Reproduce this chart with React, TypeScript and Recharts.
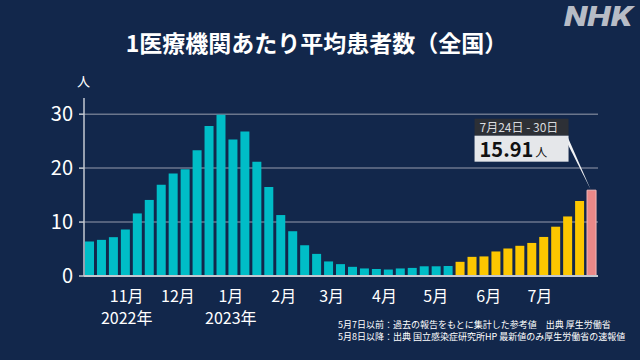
import { BarChart, Bar, XAxis, YAxis, CartesianGrid, Cell } from "recharts";

// weekly averages, 2022-10 .. 2023-05-07 (reference values)
const pastValues = [
  6.4, 6.7, 7.2, 8.6, 11.6, 14.1, 16.9, 19.0, 19.8, 23.3, 27.8, 29.9, 25.3,
  26.8, 21.2, 16.5, 11.3, 8.3, 5.7, 4.1, 2.7, 2.2, 1.7, 1.4, 1.3, 1.2, 1.4,
  1.5, 1.8, 1.8, 1.85,
];
// from 2023-05-08 (sentinel surveillance)
const newValues = [2.63, 3.55, 3.63, 4.55, 5.11, 5.6, 6.13, 7.24, 9.14, 11.04, 13.91];
const latestValue = 15.91;
const latestRange = "7月24日 - 30日";

const monthLabels = ["11月", "12月", "1月", "2月", "3月", "4月", "5月", "6月", "7月"];
const yearLabels = ["2022年", "", "2023年", "", "", "", "", "", ""];
const monthStarts = [
  "2022-11-01", "2022-12-01", "2023-01-01", "2023-02-01", "2023-03-01",
  "2023-04-01", "2023-05-01", "2023-06-01", "2023-07-01",
];
const firstBarDate = "2022-10-10T12:00:00Z";
const yTicks = [0, 10, 20, 30];
const gridValues = [10, 20, 30];

const WEEK = 7 * 864e5;
const monthTicks = monthStarts.map(
  (d) => (Date.parse(d + "T00:00:00Z") - Date.parse(firstBarDate)) / WEEK,
);

const colors: Record<string, string> = {
  past: "#00bdc7",
  new: "#fcc700",
  latest: "#ea8888",
};

const data = [
  ...pastValues.map((v) => ({ value: v, kind: "past" })),
  ...newValues.map((v) => ({ value: v, kind: "new" })),
  { value: latestValue, kind: "latest" },
].map((d, i) => ({ ...d, pos: i }));

const FONT = '"Noto Sans CJK JP", "Noto Sans", sans-serif';
const BG = "#12274b";

const MonthTick = (props: any) => {
  const { x, y, index } = props;
  return (
    <g>
      <text x={x} y={y + 26} textAnchor="middle" fill="#fff" fontSize={16} fontFamily={FONT}>
        {monthLabels[index]}
      </text>
      {yearLabels[index] && (
        <text x={x} y={y + 48} textAnchor="middle" fill="#fff" fontSize={16} fontFamily={FONT}>
          {yearLabels[index]}
        </text>
      )}
    </g>
  );
};

const renderCallout = (props: any) => {
  const vb = props.viewBox ?? props;
  if (props.index !== data.length - 1 && props.value !== latestValue) return null;
  const bx = vb.x + vb.width / 2;
  const by = vb.y;
  const left = bx - 117;
  const right = bx - 23;
  const top = by - 71.5;
  return (
    <g>
      <polygon
        points={`${right - 1},${top + 18} ${right - 1},${top + 25} ${bx - 1},${by - 1}`}
        fill="#f2f3f5"
      />
      <rect x={left} y={top} width={right - left} height={17} fill="#2d3036" />
      <rect x={left} y={top + 17} width={right - left} height={26} fill="#e5e7ea" />
      <text x={left + 5} y={top + 13} fill="#d9dbdf" fontSize={12} fontFamily={FONT}>
        {latestRange}
      </text>
      <text x={left + 5} y={top + 38.5} fill="#111" fontFamily={FONT}>
        <tspan fontSize={20} fontWeight="bold">{latestValue.toFixed(2)}</tspan>
        <tspan fontSize={12} dx={2}>人</tspan>
      </text>
    </g>
  );
};

export default function App() {
  return (
    <div
      style={{
        position: "absolute",
        left: 0,
        top: 0,
        width: 640,
        height: 360,
        background: BG,
        overflow: "hidden",
      }}
    >
      <BarChart
        width={640}
        height={360}
        data={data}
        margin={{ top: 98, right: 42, bottom: 0, left: 0 }}
      >
        <CartesianGrid
          vertical={false}
          horizontalValues={gridValues}
          stroke="#6b768c"
          strokeWidth={1.5}
        />
        <XAxis
          type="number"
          dataKey="pos"
          domain={[-0.5, 42.5]}
          ticks={monthTicks}
          interval={0}
          height={84}
          tickLine={false}
          tickSize={0}
          tickMargin={0}
          tick={<MonthTick />}
          axisLine={{ stroke: "#c3c8d0", strokeWidth: 2 }}
        />
        <YAxis
          width={84}
          domain={[0, 33]}
          ticks={yTicks}
          interval={0}
          tickSize={5}
          tickMargin={6}
          tickLine={{ stroke: "#c3c8d0", strokeWidth: 1.5 }}
          axisLine={{ stroke: "#c3c8d0", strokeWidth: 1.5 }}
          tick={{ fill: "#fff", fontSize: 20, fontFamily: FONT }}
        />
        <Bar dataKey="value" barSize={9} isAnimationActive={false} label={renderCallout}>
          {data.map((d, i) => (
            <Cell
              key={i}
              fill={colors[d.kind]}
              stroke={d.kind === "latest" ? "#f5b9b9" : "none"}
              strokeWidth={1}
            />
          ))}
        </Bar>
      </BarChart>
      <svg
        width={640}
        height={360}
        style={{ position: "absolute", left: 0, top: 0, pointerEvents: "none" }}
      >
        <text
          x={564}
          y={26}
          fill="#b7bcc6"
          fontSize={27}
          fontWeight={900}
          fontStyle="italic"
          fontFamily="Roboto, 'Liberation Sans', sans-serif"
          textLength={68}
          lengthAdjust="spacingAndGlyphs"
        >
          NHK
        </text>
        <text
          x={316.5}
          y={52}
          textAnchor="middle"
          fill="#fff"
          fontSize={23}
          fontWeight="bold"
          fontFamily={FONT}
        >
          1医療機関あたり平均患者数（全国）
        </text>
        <text x={83.5} y={86} textAnchor="middle" fill="#fff" fontSize={13} fontFamily={FONT}>
          人
        </text>
        <text x={338} y={327.5} fill="#fff" fontSize={9} fontFamily={FONT}>
          5月7日以前：過去の報告をもとに集計した参考値　出典 厚生労働省
        </text>
        <text x={338} y={339.5} fill="#fff" fontSize={9} fontFamily={FONT}>
          5月8日以降：出典 国立感染症研究所HP 最新値のみ厚生労働省の速報値
        </text>
      </svg>
    </div>
  );
}
